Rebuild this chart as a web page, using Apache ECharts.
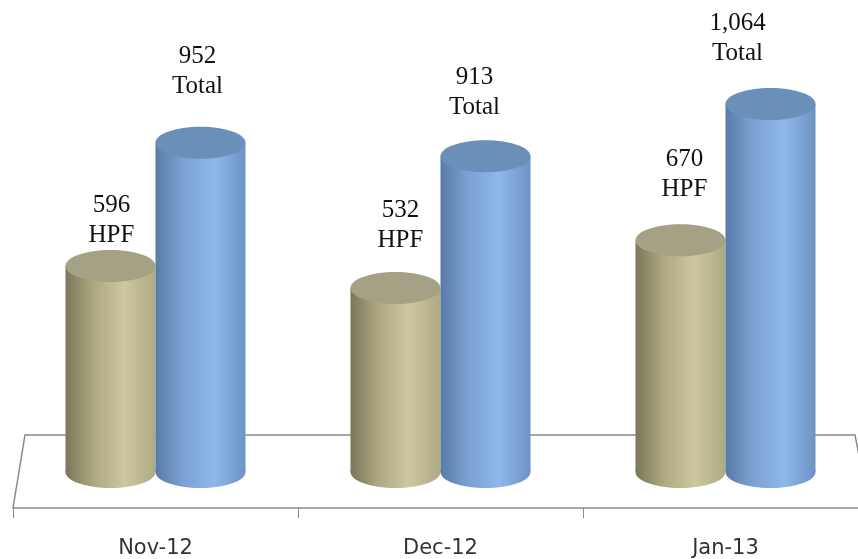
<!DOCTYPE html>
<html>
<head>
<meta charset="utf-8">
<style>
  html, body { margin: 0; padding: 0; background: #fff; }
  #chart { width: 858px; height: 559px; }
</style>
</head>
<body>
<div id="chart"></div>
<script src="https://cdn.jsdelivr.net/npm/echarts@6/dist/echarts.min.js"></script>
<script>
const categories = ['Nov-12', 'Dec-12', 'Jan-13'];
const hpfValues = [596, 532, 670];
const totalValues = [952, 913, 1064];
const valueLabels = ['596\nHPF', '532\nHPF', '670\nHPF'];
const totalLabels = ['952\nTotal', '913\nTotal', '1,064\nTotal'];

const myChart = echarts.init(document.getElementById('chart'));

const gradient = (stops) => new echarts.graphic.LinearGradient(0, 0, 1, 0,
  stops.map((s) => ({ offset: s[0], color: s[1] })));

// one cylinder: side + bottom cap + top cap + label, all placed from api.coord
// nudges = hand-placed label shifts [dx, gap above the cap], the source labels are not centred
function cylinder(side, topCap, labels, offset, nudges) {
  return function (params, api) {
    const base = api.coord([api.value(0), 0]);
    const top = api.coord([api.value(0), api.value(1)]);
    const cx = base[0] + offset;
    const rx = 45;
    const ry = 16;
    const fill = gradient(side);
    const nudge = nudges[params.dataIndex];
    return {
      type: 'group',
      children: [
        { type: 'ellipse', shape: { cx: cx, cy: base[1], rx: rx, ry: ry }, style: { fill: fill } },
        { type: 'rect', shape: { x: cx - rx, y: top[1], width: rx * 2, height: base[1] - top[1] }, style: { fill: fill } },
        { type: 'ellipse', shape: { cx: cx, cy: top[1], rx: rx, ry: ry }, style: { fill: topCap } },
        {
          type: 'text',
          style: {
            x: cx + nudge[0],
            y: top[1] - ry - nudge[1],
            text: labels[params.dataIndex],
            align: 'center',
            verticalAlign: 'bottom',
            fontFamily: '"Liberation Serif"',
            fontSize: 25,
            lineHeight: 30,
            fill: '#111'
          }
        }
      ]
    };
  };
}

const tanSide = [[0, '#79765a'], [0.3, '#aca780'], [0.65, '#ccc79f'], [1, '#aeaa84']];
const blueSide = [[0, '#587ba6'], [0.3, '#7ba1d2'], [0.65, '#8fb7ea'], [1, '#6d93c4']];

myChart.setOption({
  animation: false,
  backgroundColor: '#fff',
  grid: { left: 13, width: 855, top: 57, bottom: 87, outerBoundsMode: 'none' },
  xAxis: {
    type: 'category',
    data: categories,
    offset: 36,
    axisLine: { onZero: false, lineStyle: { color: '#8a8a8a', width: 1.5 } },
    axisTick: { show: true, length: 10, lineStyle: { color: '#8a8a8a' } },
    axisLabel: { margin: 30, fontFamily: '"DejaVu Sans"', fontSize: 21, color: '#333' }
  },
  yAxis: { type: 'value', min: 0, max: 1200, show: false },
  graphic: [
    {
      type: 'polyline',
      z: 0,
      shape: { points: [[13, 508], [25, 435], [855, 435], [861, 466]] },
      style: { stroke: '#8a8a8a', lineWidth: 1.5, fill: null }
    }
  ],
  series: [
    {
      type: 'custom',
      renderItem: cylinder(tanSide, '#a5a184', valueLabels, -45, [[1, -1], [5, 17], [4, 20]]),
      data: hpfValues.map((v, i) => [i, v]),
      encode: { x: 0, y: 1 }
    },
    {
      type: 'custom',
      renderItem: cylinder(blueSide, '#6a8fb9', totalLabels, 45, [[-3, 25], [-11, 18], [-33, 20]]),
      data: totalValues.map((v, i) => [i, v]),
      encode: { x: 0, y: 1 }
    }
  ]
});
</script>
</body>
</html>
